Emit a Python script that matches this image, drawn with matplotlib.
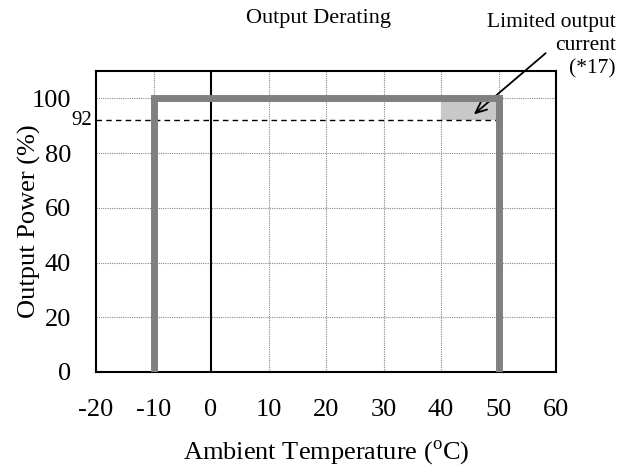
import matplotlib
matplotlib.use("Agg")
import matplotlib.pyplot as plt

plt.rcParams['font.family'] = ['Liberation Serif', 'DejaVu Serif']
plt.rcParams['mathtext.fontset'] = 'custom'
plt.rcParams['mathtext.rm'] = 'Liberation Serif'
plt.rcParams['axes.unicode_minus'] = False

# data
derating_x = [-10, -10, 50, 50]
derating_y = [0, 100, 100, 0]
limit_level = 92
limit_x = [-20, 50]
shade_x = [40, 50]
shade_y = [92, 100]
xticks = [-20, -10, 0, 10, 20, 30, 40, 50, 60]
yticks = [0, 20, 40, 60, 80, 100]

fig = plt.figure(figsize=(6.35, 4.68), dpi=100)
ax = fig.add_axes([96/635, 1-372/468, 460/635, 301/468])
ax.set_xlim(-20, 60)
ax.set_ylim(0, 110)

for v in [10, 20, 30, 40, 50, -10]:
    ax.axvline(v, color='#888888', lw=0.8, ls=(0, (1, 1)), zorder=1)
for v in [20, 40, 60, 80, 100]:
    ax.axhline(v, color='#888888', lw=0.8, ls=(0, (1, 1)), zorder=1)

ax.fill_between(shade_x, shade_y[0], shade_y[1], color='#c8c8c8', lw=0, zorder=2)
ax.plot(limit_x, [limit_level, limit_level], color='black', lw=1, ls=(0, (4, 3)), zorder=3)
ax.axvline(0, color='black', lw=1.5, zorder=3)
ax.plot(derating_x, derating_y, color='#808080', lw=5, solid_joinstyle='miter', zorder=4)

ax.set_xticks(xticks)
ax.set_xticklabels([str(t) for t in xticks])
ax.set_yticks(yticks)
ax.tick_params(length=0, labelsize=19)
ax.tick_params(axis='x', pad=19.5)
ax.tick_params(axis='y', pad=18)
for s in ax.spines.values():
    s.set_linewidth(1.5)

ax.text(-20.6, limit_level, '92', ha='right', va='center', fontsize=15)

ax.set_xlabel('Ambient Temperature ($^{\\rm o}$C)', fontsize=19, labelpad=12.5)
ax.set_ylabel('Output Power (%)', fontsize=19, labelpad=-7)
fig.text(319/635, 1-19/468, 'Output Derating', ha='center', va='center', fontsize=16)

fig.text(616/635, 1-13/468, 'Limited output\ncurrent\n(*17)', ha='right', va='top',
         fontsize=15.5, linespacing=1.3)
ax.annotate('', xy=(45.7, 94.1), xytext=(58.2, 116.5),
            arrowprops=dict(arrowstyle='->,head_length=0.8,head_width=0.35', color='black', lw=1.3,
                            shrinkA=0, shrinkB=0),
            annotation_clip=False)

fig.savefig('out.png', dpi=100)
